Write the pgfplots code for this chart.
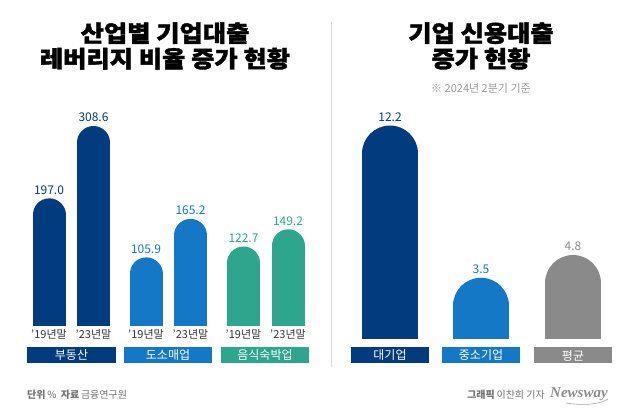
\documentclass[border=0pt]{standalone}
\usepackage{fontspec}
\setmainfont{Noto Sans CJK KR}
\newfontfamily\titlefont[FakeStretch=1.1, BoldFeatures={FakeBold=1.6}]{Noto Sans CJK KR}
\newfontfamily\nwfont{Liberation Serif}
\usepackage{pgfplots}
\pgfplotsset{compat=1.18}

\definecolor{cNavy}{HTML}{023B7E}
\definecolor{cBlue}{HTML}{1478C7}
\definecolor{cTeal}{HTML}{2EA68D}
\definecolor{cGray}{HTML}{8A8A8A}
\definecolor{cText}{HTML}{333333}

% each bar is a thick comb with a round cap; the comb stops one radius short of the value
% so the cap ends at the value, and the bottom cap is clipped below ymin=0
\pgfplotsset{
  pill/.style 2 args={ycomb, line width=#1, line cap=round, mark=none,
    nodes near coords={\pgfmathprintnumber[fixed,fixed zerofill,precision=1]{\pgfplotspointmeta}},
    point meta=explicit,
    every node near coord/.append style={font=\fontsize{12}{14}\selectfont, anchor=south,
      inner sep=1pt, outer sep=0pt, yshift=#2}},
}

\begin{document}
\begin{tikzpicture}
\useasboundingbox (0pt,0pt) rectangle (640pt,412pt);

% ---- left chart: leverage by industry (radius 16.5pt = 25.46 units)
\begin{axis}[
  at={(0pt,86pt)}, anchor=south west, scale only axis,
  width=320pt, height=216pt,
  xmin=0, xmax=320, ymin=0, ymax=333.33,
  axis line style={draw=none}, major tick style={draw=none},
  ytick=\empty,
  xtick={49,93.5,146,190.5,243.5,288},
  xticklabels={’19년말,’23년말,’19년말,’23년말,’19년말,’23년말},
  xticklabel style={font=\fontsize{11}{13}\selectfont, text=cText, anchor=north, inner sep=0pt, yshift=-3pt},
  /pgf/number format/assume math mode=true,
]
\addplot[pill={33pt}{19.5pt}, draw=cNavy, every node near coord/.append style={text=cNavy}]
  table[x=x, y expr=\thisrow{v}-25.46, meta=v] {
x v
49 197.0
93.5 308.6
};
\addplot[pill={33pt}{19.5pt}, draw=cBlue, every node near coord/.append style={text=cBlue}]
  table[x=x, y expr=\thisrow{v}-25.46, meta=v] {
x v
146 105.9
190.5 165.2
};
\addplot[pill={33pt}{19.5pt}, draw=cTeal, every node near coord/.append style={text=cTeal}]
  table[x=x, y expr=\thisrow{v}-25.46, meta=v] {
x v
243.5 122.7
288 149.2
};
\end{axis}

% ---- right chart: corporate credit loan growth (radius 28pt = 1.6 units)
\begin{axis}[
  at={(330pt,73pt)}, anchor=south west, scale only axis,
  width=310pt, height=250pt,
  xmin=330, xmax=640, ymin=0, ymax=14.286,
  axis line style={draw=none}, major tick style={draw=none},
  ytick=\empty, xtick=\empty,
  /pgf/number format/assume math mode=true,
]
\addplot[pill={56pt}{31pt}, draw=cNavy, every node near coord/.append style={text=cNavy}]
  table[x=x, y expr=\thisrow{v}-1.6, meta=v] {
x v
390 12.2
};
\addplot[pill={56pt}{31pt}, draw=cBlue, every node near coord/.append style={text=cBlue}]
  table[x=x, y expr=\thisrow{v}-1.6, meta=v] {
x v
481 3.5
};
\addplot[pill={56pt}{31pt}, draw=cGray, every node near coord/.append style={text=cGray}]
  table[x=x, y expr=\thisrow{v}-1.6, meta=v] {
x v
573 4.8
};
\end{axis}

% divider
\draw[black!15, line width=0.8pt] (331pt,390pt) -- (331pt,45pt);

% titles
\node[align=center, font=\fontsize{23}{25.5}\selectfont\titlefont\bfseries, text=black] at (165pt,366pt)
  {산업별 기업대출\\레버리지 비율 증가 현황};
\node[align=center, font=\fontsize{23}{25.5}\selectfont\titlefont\bfseries, text=black] at (481pt,366pt)
  {기업 신용대출\\증가 현황};
\node[font=\fontsize{11}{13}\selectfont, text=black!40] at (481pt,324pt) {※ 2024년 2분기 기준};

% category boxes
\tikzset{cat/.style={fill=#1, text=white, inner sep=0pt, minimum height=16pt,
  font=\fontsize{12}{14}\selectfont}}
\node[cat=cNavy, minimum width=89pt] at (71.5pt,57pt) {부동산};
\node[cat=cBlue, minimum width=88pt] at (168pt,57pt) {도소매업};
\node[cat=cTeal, minimum width=88pt] at (265pt,57pt) {음식숙박업};
\node[cat=cNavy, minimum width=78pt] at (390pt,56.5pt) {대기업};
\node[cat=cBlue, minimum width=78pt] at (481pt,56.5pt) {중소기업};
\node[cat=cGray, minimum width=78pt] at (573pt,56.5pt) {평균};

% footer
\node[anchor=west, text=black!55, font=\fontsize{10}{12}\selectfont, inner sep=0pt] at (27pt,17pt)
  {\textbf{단위}\,\% \ \textbf{자료}\,금융연구원};
\node[anchor=east, text=black!55, font=\fontsize{10}{12}\selectfont, inner sep=0pt] at (545pt,17pt)
  {\textbf{그래픽}\,이찬희 기자};
\node[anchor=west, text=black!45, font=\fontsize{15}{17}\selectfont\nwfont\itshape\bfseries, inner sep=0pt] at (550pt,18pt)
  {Newsway};
\draw[black!35, line width=0.6pt] (566pt,9pt) .. controls (585pt,6pt) and (600pt,8pt) .. (608pt,13pt);
\end{tikzpicture}
\end{document}
